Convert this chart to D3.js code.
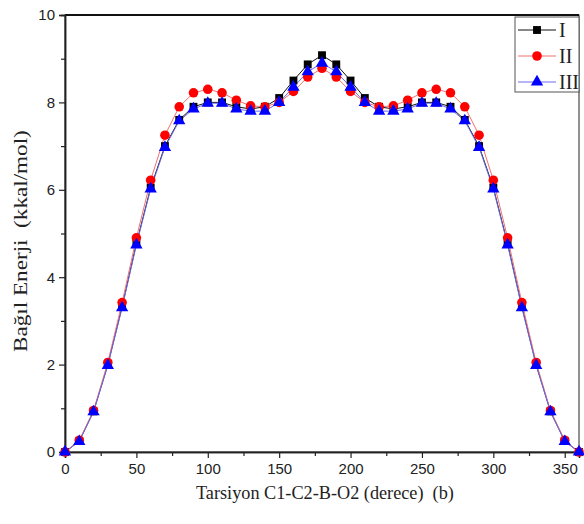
<!DOCTYPE html>
<html>
<head>
<meta charset="utf-8">
<script src="https://cdn.jsdelivr.net/npm/d3@7"></script>
<style>
  body { margin: 0; background: #fff; }
  svg text { fill: #222; white-space: pre; }
</style>
</head>
<body>
<svg id="chart" width="584" height="524"></svg>
<script>
const angles = [0, 10, 20, 30, 40, 50, 60, 70, 80, 90, 100, 110, 120, 130, 140, 150, 160, 170, 180,
                190, 200, 210, 220, 230, 240, 250, 260, 270, 280, 290, 300, 310, 320, 330, 340, 350, 360];
const energyI   = [0, 0.25, 0.93, 2.0, 3.33, 4.77, 6.05, 7.0, 7.6, 7.9, 8.0, 8.0, 7.9, 7.85, 7.9, 8.1, 8.5, 8.87, 9.08,
                   8.87, 8.5, 8.1, 7.9, 7.85, 7.9, 8.0, 8.0, 7.9, 7.6, 7.0, 6.05, 4.77, 3.33, 2.0, 0.93, 0.25, 0];
const energyII  = [0, 0.27, 0.95, 2.05, 3.42, 4.9, 6.22, 7.25, 7.9, 8.22, 8.3, 8.22, 8.05, 7.92, 7.9, 8.0, 8.25, 8.58, 8.78,
                   8.58, 8.25, 8.0, 7.9, 7.92, 8.05, 8.22, 8.3, 8.22, 7.9, 7.25, 6.22, 4.9, 3.42, 2.05, 0.95, 0.27, 0];
const energyIII = [0, 0.24, 0.92, 1.98, 3.3, 4.74, 6.02, 6.97, 7.58, 7.85, 7.98, 7.98, 7.85, 7.8, 7.8, 8.0, 8.35, 8.7, 8.9,
                   8.7, 8.35, 8.0, 7.8, 7.8, 7.85, 7.98, 7.98, 7.85, 7.58, 6.97, 6.02, 4.74, 3.3, 1.98, 0.92, 0.24, 0];
const seriesNames = ["I", "II", "III"];
const xTicks = [0, 50, 100, 150, 200, 250, 300, 350];
const yTicks = [0, 2, 4, 6, 8, 10];

let svg     = d3.select("#chart"),
    mLeft   = 65,
    mRight  = 579,
    mTop    = 15,
    mBottom = 452,
    x       = d3.scaleLinear().domain([0, 360]).range([mLeft, mRight]),
    y       = d3.scaleLinear().domain([0, 10]).range([mBottom, mTop]);

let series = [
  {name: seriesNames[0], values: energyI,   line: "#111",    fill: "#000",    shape: d3.symbolSquare,   size: 62},
  {name: seriesNames[1], values: energyII,  line: "#f07070", fill: "#ff0000", shape: d3.symbolCircle,   size: 72},
  {name: seriesNames[2], values: energyIII, line: "#6a6aee", fill: "#0000ff", shape: d3.symbolTriangle, size: 66}
];

// frame
svg.append("rect")
  .attr("x", mLeft).attr("y", mTop)
  .attr("width", mRight - mLeft).attr("height", mBottom - mTop)
  .attr("fill", "none").attr("stroke", "#222").attr("stroke-width", 1);
svg.append("line")
  .attr("x1", mLeft).attr("x2", mRight).attr("y1", mTop).attr("y2", mTop)
  .attr("stroke", "#111").attr("stroke-width", 2);

// axes
svg.append("g")
  .attr("transform", "translate(0," + mBottom + ")")
  .call(d3.axisBottom(x).tickValues(xTicks).tickSize(6).tickPadding(5));
svg.append("g")
  .attr("transform", "translate(0," + mBottom + ")")
  .call(d3.axisBottom(x).tickValues(d3.range(25, 360, 50)).tickSize(4).tickFormat(""));

svg.append("g")
  .attr("transform", "translate(" + mLeft + ",0)")
  .call(d3.axisLeft(y).tickValues(yTicks).tickSize(6).tickPadding(4));
svg.append("g")
  .attr("transform", "translate(" + mLeft + ",0)")
  .call(d3.axisLeft(y).tickValues([1, 3, 5, 7, 9]).tickSize(4).tickFormat(""));

svg.selectAll(".domain").attr("stroke", "#222").attr("stroke-width", 1.5);
svg.selectAll(".tick line").attr("stroke", "#222").attr("stroke-width", 1.2);
svg.selectAll(".tick text")
  .attr("font-family", "Liberation Sans, Arial, sans-serif")
  .attr("font-size", 15)
  .attr("fill", "#222");

// lines + markers
let line = d3.line()
  .x((d, i) => x(angles[i]))
  .y(d => y(d));

series.forEach(s => {
  svg.append("path")
    .datum(s.values)
    .attr("d", line)
    .attr("fill", "none")
    .attr("stroke", s.line)
    .attr("stroke-width", 1);
});

series.forEach(s => {
  svg.append("g").selectAll("path")
    .data(s.values)
    .enter().append("path")
    .attr("transform", (d, i) => "translate(" + x(angles[i]) + "," + y(d) + ")")
    .attr("d", d3.symbol().type(s.shape).size(s.size))
    .attr("fill", s.fill);
});

// axis titles, stretched along the baseline to the picture's width
function stretchedLabel(txt, base, len, size) {
  let t = svg.append("text")
    .attr("font-family", "Liberation Serif, Times New Roman, serif")
    .attr("font-size", size)
    .text(txt);
  let natural = t.node().getComputedTextLength();
  t.attr("transform", base + " scale(" + (len / natural) + ",1)");
  return t;
}

stretchedLabel("Tarsiyon C1-C2-B-O2 (derece)  (b)", "translate(196,499)", 258, 18);
stretchedLabel("Bağıl Enerji  (kkal/mol)", "translate(27,352) rotate(-90)", 222, 19);

// legend
let legend = svg.append("g").attr("transform", "translate(515,17)");
legend.append("rect")
  .attr("width", 64).attr("height", 75)
  .attr("fill", "#fff").attr("stroke", "#555").attr("stroke-width", 1);

series.forEach((s, i) => {
  let ly = 13 + i * 26;
  legend.append("line")
    .attr("x1", 3).attr("x2", 41).attr("y1", ly).attr("y2", ly)
    .attr("stroke", s.line).attr("stroke-width", 1);
  legend.append("path")
    .attr("transform", "translate(22," + ly + ")")
    .attr("d", d3.symbol().type(s.shape).size(s.size))
    .attr("fill", s.fill);
  legend.append("text")
    .attr("x", 44).attr("y", ly + 7)
    .attr("font-family", "Liberation Serif, Times New Roman, serif")
    .attr("font-size", 20)
    .text(s.name);
});
</script>
</body>
</html>
